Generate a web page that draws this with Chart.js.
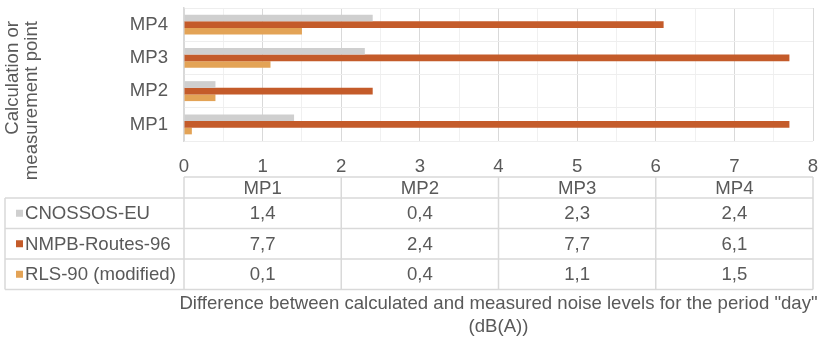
<!DOCTYPE html>
<html>
<head>
<meta charset="utf-8" />
<title>Noise level differences</title>
<script src="https://cdn.jsdelivr.net/npm/chart.js@4.4.1/dist/chart.umd.min.js"></script>
<style>
    body { margin: 0; background: #fff; }
    #wrap { width: 820px; height: 339px; }
</style>
</head>
<body>
<div id="wrap"><canvas id="chart" width="820" height="339"></canvas></div>

<script type="text/javascript">
// Data.
var categories = ['MP1', 'MP2', 'MP3', 'MP4'];
var seriesNames = ['CNOSSOS-EU', 'NMPB-Routes-96', 'RLS-90 (modified)'];
var cnossos = [1.4, 0.4, 2.3, 2.4];
var nmpb = [7.7, 2.4, 7.7, 6.1];
var rls90 = [0.1, 0.4, 1.1, 1.5];
var seriesColors = ['#cfcfcf', '#c45b2a', '#e3a356'];

var xTitle = ['Difference between calculated and measured noise levels for the period "day"', '(dB(A))'];
var yTitle = ['Calculation or', 'measurement point'];

var textColor = '#595959';
var fontFamily = '"Liberation Sans", Arial, sans-serif';
var fontSize = 18.6;

function fmt(v) {
    return v.toFixed(1).replace('.', ',');
}

// scales should not add label padding around the plot
function noScalePadding(s) {
    s.paddingTop = 0;
    s.paddingBottom = 0;
    s.paddingLeft = 0;
    s.paddingRight = 0;
}

// Draws the data table under the plot and the two axis titles.
var tablePlugin = {
    id: 'dataTable',
    afterDraw: function (chart) {
        var ctx = chart.ctx;
        var area = chart.chartArea;
        var series = [cnossos, nmpb, rls90];
        var colW = (area.right - area.left) / categories.length;
        var headTop = area.bottom + 36;
        var headH = 21;
        var rowH = 30.5;
        var tableLeft = 5;

        ctx.save();
        ctx.strokeStyle = '#d9d9d9';
        ctx.lineWidth = 1.5;

        // header row borders (only over the data columns)
        ctx.beginPath();
        ctx.moveTo(area.left, headTop);
        ctx.lineTo(area.right, headTop);
        for (var i = 0; i <= categories.length; i++) {
            var x = area.left + i * colW;
            ctx.moveTo(x, headTop);
            ctx.lineTo(x, headTop + headH);
        }
        // body rows
        var bodyTop = headTop + headH;
        var bodyBottom = bodyTop + rowH * series.length;
        for (var r = 0; r <= series.length; r++) {
            ctx.moveTo(tableLeft, bodyTop + r * rowH);
            ctx.lineTo(area.right, bodyTop + r * rowH);
        }
        ctx.moveTo(tableLeft, bodyTop);
        ctx.lineTo(tableLeft, bodyBottom);
        for (var i = 0; i <= categories.length; i++) {
            var x = area.left + i * colW;
            ctx.moveTo(x, bodyTop);
            ctx.lineTo(x, bodyBottom);
        }
        ctx.stroke();

        ctx.fillStyle = textColor;
        ctx.font = fontSize + 'px ' + fontFamily;
        ctx.textBaseline = 'middle';
        ctx.textAlign = 'center';
        for (var i = 0; i < categories.length; i++) {
            ctx.fillText(categories[i], area.left + (i + 0.5) * colW, headTop + headH / 2 + 1);
        }
        for (var r = 0; r < series.length; r++) {
            var cy = bodyTop + (r + 0.5) * rowH + 1;
            for (var i = 0; i < categories.length; i++) {
                ctx.fillText(fmt(series[r][i]), area.left + (i + 0.5) * colW, cy);
            }
            ctx.fillStyle = seriesColors[r];
            ctx.fillRect(16, cy - 4.5, 7, 7);
            ctx.fillStyle = textColor;
            ctx.textAlign = 'left';
            ctx.fillText(seriesNames[r], 25, cy);
            ctx.textAlign = 'center';
        }

        // x axis title
        var midX = (area.left + area.right) / 2;
        ctx.fillText(xTitle[0], midX, bodyBottom + 14);
        ctx.fillText(xTitle[1], midX, bodyBottom + 37);

        // y axis title, rotated, lines ending near the top
        ctx.rotate(-Math.PI / 2);
        ctx.textAlign = 'right';
        ctx.fillText(yTitle[0], -21, 13);
        ctx.fillText(yTitle[1], -21, 32);
        ctx.restore();
    }
};

var chart = new Chart(document.getElementById('chart'), {
    type: 'bar',
    data: {
        labels: categories,
        datasets: [
            { label: seriesNames[0], data: cnossos, backgroundColor: seriesColors[0] },
            { label: seriesNames[1], data: nmpb, backgroundColor: seriesColors[1] },
            { label: seriesNames[2], data: rls90, backgroundColor: seriesColors[2] }
        ]
    },
    options: {
        indexAxis: 'y',
        responsive: false,
        animation: false,
        devicePixelRatio: 1,
        datasets: {
            bar: { categoryPercentage: 0.6, barPercentage: 1.0 }
        },
        layout: {
            padding: { top: 8, right: 7, bottom: 158, left: 0 }
        },
        scales: {
            x: {
                min: 0,
                max: 8,
                afterFit: function (s) { s.height = 40; noScalePadding(s); },
                border: { display: false },
                grid: {
                    drawTicks: false,
                    color: function (c) {
                        return c.tick && c.tick.value % 1 === 0 ? '#d9d9d9' : '#f0f0f0';
                    }
                },
                ticks: {
                    stepSize: 0.5,
                    autoSkip: false,
                    maxRotation: 0,
                    padding: 15,
                    color: textColor,
                    font: { family: fontFamily, size: fontSize },
                    callback: function (v) { return v % 1 === 0 ? String(v) : ''; }
                }
            },
            y: {
                reverse: true,
                afterFit: function (s) { s.width = 184; noScalePadding(s); },
                border: { color: '#d9d9d9', width: 1.5 },
                grid: { drawTicks: false, color: '#eeeeee' },
                ticks: {
                    padding: 16,
                    color: textColor,
                    font: { family: fontFamily, size: fontSize }
                }
            }
        },
        plugins: {
            legend: { display: false },
            tooltip: { enabled: false }
        }
    },
    plugins: [tablePlugin]
});
</script>
</body>
</html>
